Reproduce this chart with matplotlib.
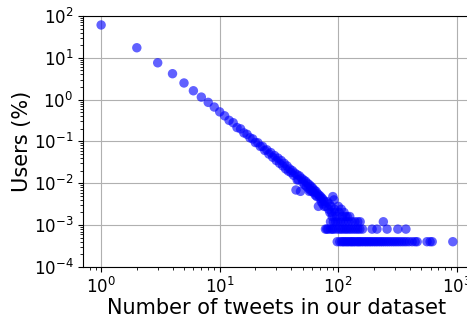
import matplotlib
matplotlib.use("Agg")
import matplotlib.pyplot as plt

# Head of the distribution (one point per tweet count)
x_head = [1, 2, 3, 4, 5, 6, 7, 8, 9, 10,
          11, 12, 13, 14, 15, 16, 17, 18, 19, 20,
          21, 22, 23, 24, 25, 26, 27, 28, 29, 30,
          31, 32, 33, 34, 35, 36, 37, 38, 39, 40,
          41, 42, 43, 44, 45, 46, 47, 48, 49, 50,
          51, 52, 53, 54, 55, 56, 57, 58, 59, 60,
          61, 62, 63, 64, 65, 66, 67, 68, 69, 70,
          71, 72, 73, 74, 75, 76, 77, 79, 81, 83,
          84, 85, 87, 88, 90, 92, 93, 97, 45, 57]
y_head = [61, 17.4, 7.6, 4.17, 2.5, 1.63, 1.15, 0.86, 0.665, 0.51,
          0.41, 0.32, 0.28, 0.215, 0.20, 0.160, 0.148, 0.122, 0.115, 0.094,
          0.093, 0.076, 0.076, 0.061, 0.063, 0.050, 0.054, 0.042, 0.046, 0.035,
          0.040, 0.030, 0.035, 0.026, 0.030, 0.022, 0.026, 0.0195, 0.022, 0.018,
          0.020, 0.0155, 0.0175, 0.0069, 0.0160, 0.0122, 0.0150, 0.0064, 0.0132, 0.0106,
          0.0120, 0.0092, 0.0112, 0.0084, 0.0100, 0.0076, 0.0092, 0.0068, 0.0084, 0.0064,
          0.0076, 0.0060, 0.0068, 0.0052, 0.0064, 0.0048, 0.0056, 0.0028, 0.0052, 0.0044,
          0.0048, 0.0036, 0.0044, 0.0032, 0.0040, 0.0028, 0.0036, 0.0028, 0.0036, 0.0024,
          0.0032, 0.0020, 0.0028, 0.0020, 0.0048, 0.0040, 0.0024, 0.0016, 0.0120, 0.0064]

# Tail: tweet counts reached by only a few users (rows at 1, 2, 3 users)
x_tail = [98, 103, 107, 110, 113, 117, 120, 124, 128, 131, 135, 139, 144, 148, 152,
          157, 162, 168, 173, 179, 185, 191, 198, 205, 212, 220, 228, 236, 245, 255,
          265, 276, 288, 300, 313, 327, 342, 358, 375, 395, 420, 445, 463, 560, 595,
          620, 925,
          78, 80, 82, 86, 89, 91, 96, 101, 105, 109, 114, 118, 123, 128, 134, 140,
          146, 152, 160, 193, 212, 258, 318, 372,
          91, 95, 99, 104, 110, 116, 122, 130, 138, 146, 153, 240,
          100, 102, 106, 108, 112, 115, 119, 125, 94, 89, 86]
y_tail = [0.0004, 0.0004, 0.0004, 0.0004, 0.0004, 0.0004, 0.0004, 0.0004, 0.0004, 0.0004,
          0.0004, 0.0004, 0.0004, 0.0004, 0.0004, 0.0004, 0.0004, 0.0004, 0.0004, 0.0004,
          0.0004, 0.0004, 0.0004, 0.0004, 0.0004, 0.0004, 0.0004, 0.0004, 0.0004, 0.0004,
          0.0004, 0.0004, 0.0004, 0.0004, 0.0004, 0.0004, 0.0004, 0.0004, 0.0004, 0.0004,
          0.0004, 0.0004, 0.0004, 0.0004, 0.0004, 0.0004, 0.0004,
          0.0008, 0.0008, 0.0008, 0.0008, 0.0008, 0.0008, 0.0008, 0.0008, 0.0008, 0.0008,
          0.0008, 0.0008, 0.0008, 0.0008, 0.0008, 0.0008, 0.0008, 0.0008, 0.0008, 0.0008,
          0.0008, 0.0008, 0.0008, 0.0008,
          0.0012, 0.0012, 0.0012, 0.0012, 0.0012, 0.0012, 0.0012, 0.0012, 0.0012, 0.0012,
          0.0012, 0.0012,
          0.0028, 0.0020, 0.0024, 0.0016, 0.0020, 0.0016, 0.0016, 0.0016, 0.0020, 0.0016,
          0.0012]

x_all = x_head + x_tail
y_all = y_head + y_tail

fig = plt.figure(figsize=(4.67, 3.2), dpi=100)
ax = fig.add_axes([0.178, 0.166, 0.83, 0.784])
ax.scatter(x_all, y_all, s=46, color="blue", alpha=0.62, edgecolors="none", zorder=3)
ax.set_xscale("log")
ax.set_yscale("log")
ax.set_xlim(0.705, 1310)
ax.set_ylim(1e-4, 1e2)
ax.grid(True, which="major", color="#b0b0b0", linewidth=0.8)
ax.set_axisbelow(True)
ax.tick_params(labelsize=12)
ax.set_xlabel("Number of tweets in our dataset", fontsize=15, labelpad=1)
ax.set_ylabel("Users (%)", fontsize=15, labelpad=1)
fig.savefig("out.png", dpi=100)
